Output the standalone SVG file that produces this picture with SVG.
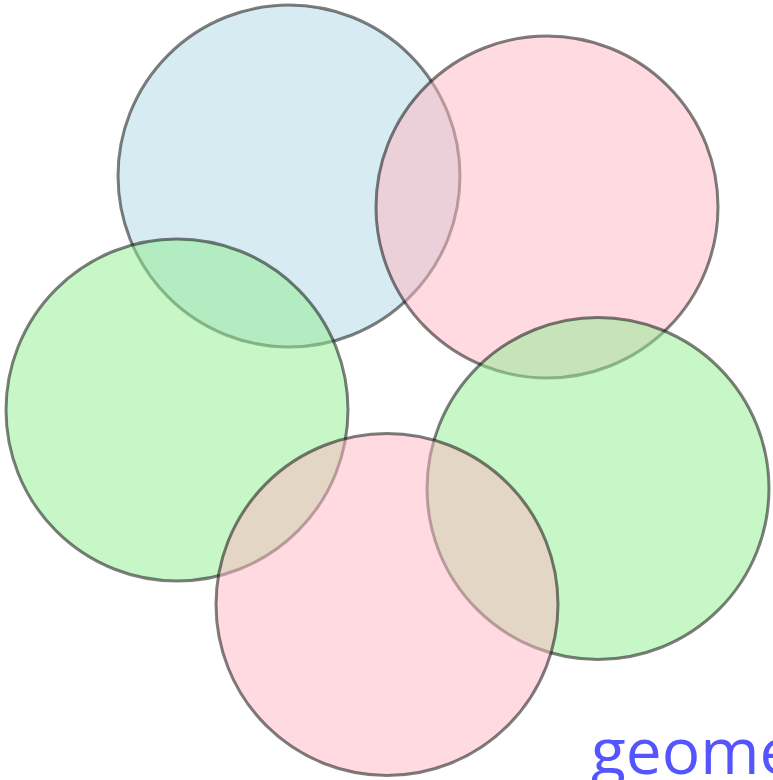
<svg xmlns="http://www.w3.org/2000/svg" width="773" height="780" viewBox="0 0 773 780">
<style>
.c{stroke:#000;stroke-opacity:0.5;stroke-width:3;fill-opacity:0.5}
.blue{fill:#add8e6}
.pink{fill:#ffb6c1}
.green{fill:#90ee90}
.lbl{font-family:"Open Sans","Noto Sans",sans-serif;font-size:64px;fill:#5555ff}
</style>
<rect width="773" height="780" fill="#fff"/>
<g id="circle-blue"><circle class="c blue" cx="289" cy="176" r="171"/></g>
<g id="circle-pink-top"><circle class="c pink" cx="547" cy="207" r="171"/></g>
<g id="circle-green-left"><circle class="c green" cx="177" cy="410" r="171"/></g>
<g id="circle-green-right"><circle class="c green" cx="598" cy="488.5" r="171"/></g>
<g id="circle-pink-bottom"><circle class="c pink" cx="387" cy="604.5" r="171"/></g>
<g id="connectors"/>
<g id="label"><text class="lbl" x="591" y="774">geome</text></g>
</svg>
